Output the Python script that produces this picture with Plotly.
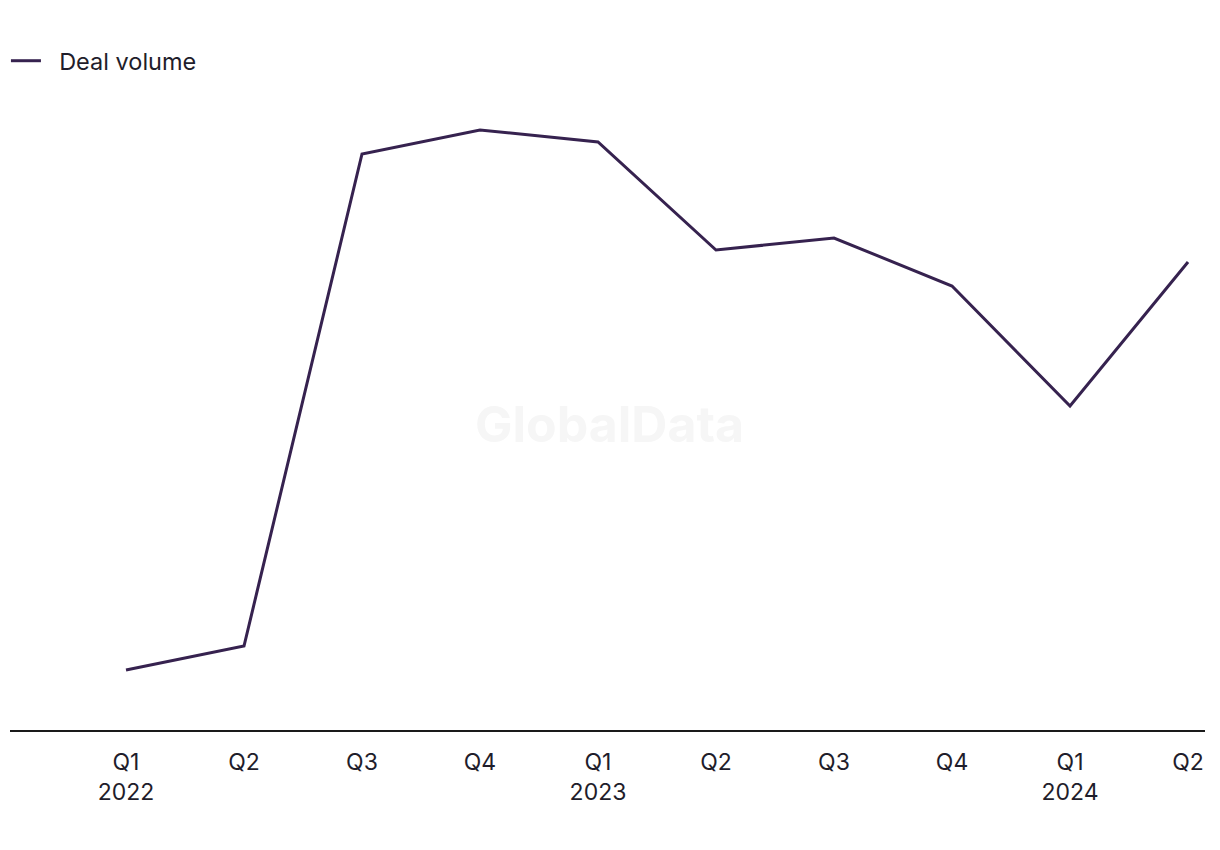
import plotly.graph_objects as go

quarters = ["Q1<br>2022", "Q2", "Q3", "Q4", "Q1<br>2023", "Q2", "Q3", "Q4", "Q1<br>2024", "Q2"]
deal_volume = [5, 7, 48, 50, 49, 40, 41, 37, 27, 39]

line_color = "#36224f"
text_color = "#1f1d2b"

x_idx = list(range(len(quarters)))

fig = go.Figure()
fig.add_trace(go.Scatter(
    x=x_idx, y=deal_volume, mode="lines", name="\u00a0\u00a0Deal volume",
    line=dict(color=line_color, width=3),
))

fig.add_annotation(
    text="GlobalData", xref="paper", yref="paper", x=0.502, y=0.486,
    showarrow=False, font=dict(family="Inter, Roboto, sans-serif", size=50, color="#f6f6f6", weight="bold"),
)

fig.update_layout(
    width=1220, height=850,
    margin=dict(l=2, r=23, t=92, b=128, autoexpand=False),
    paper_bgcolor="white", plot_bgcolor="white",
    font=dict(family="Inter, Roboto, sans-serif", size=23, color=text_color),
    showlegend=True,
    legend=dict(orientation="h", x=-0.0034, xanchor="left", y=1.062, yanchor="middle",
                font=dict(size=23.5, color=text_color), itemwidth=30),
    xaxis=dict(
        tickmode="array", tickvals=x_idx, ticktext=quarters,
        range=[-0.983, 9.144], showgrid=False, zeroline=False,
        showline=True, linecolor="#1a1a1a", linewidth=1.5,
        ticks="", ticklabelstandoff=11, automargin=False,
        tickfont=dict(size=23, color=text_color),
    ),
    yaxis=dict(range=[0, 52.5], visible=False, showgrid=False, zeroline=False, automargin=False),
)

fig.write_html("out.html")
